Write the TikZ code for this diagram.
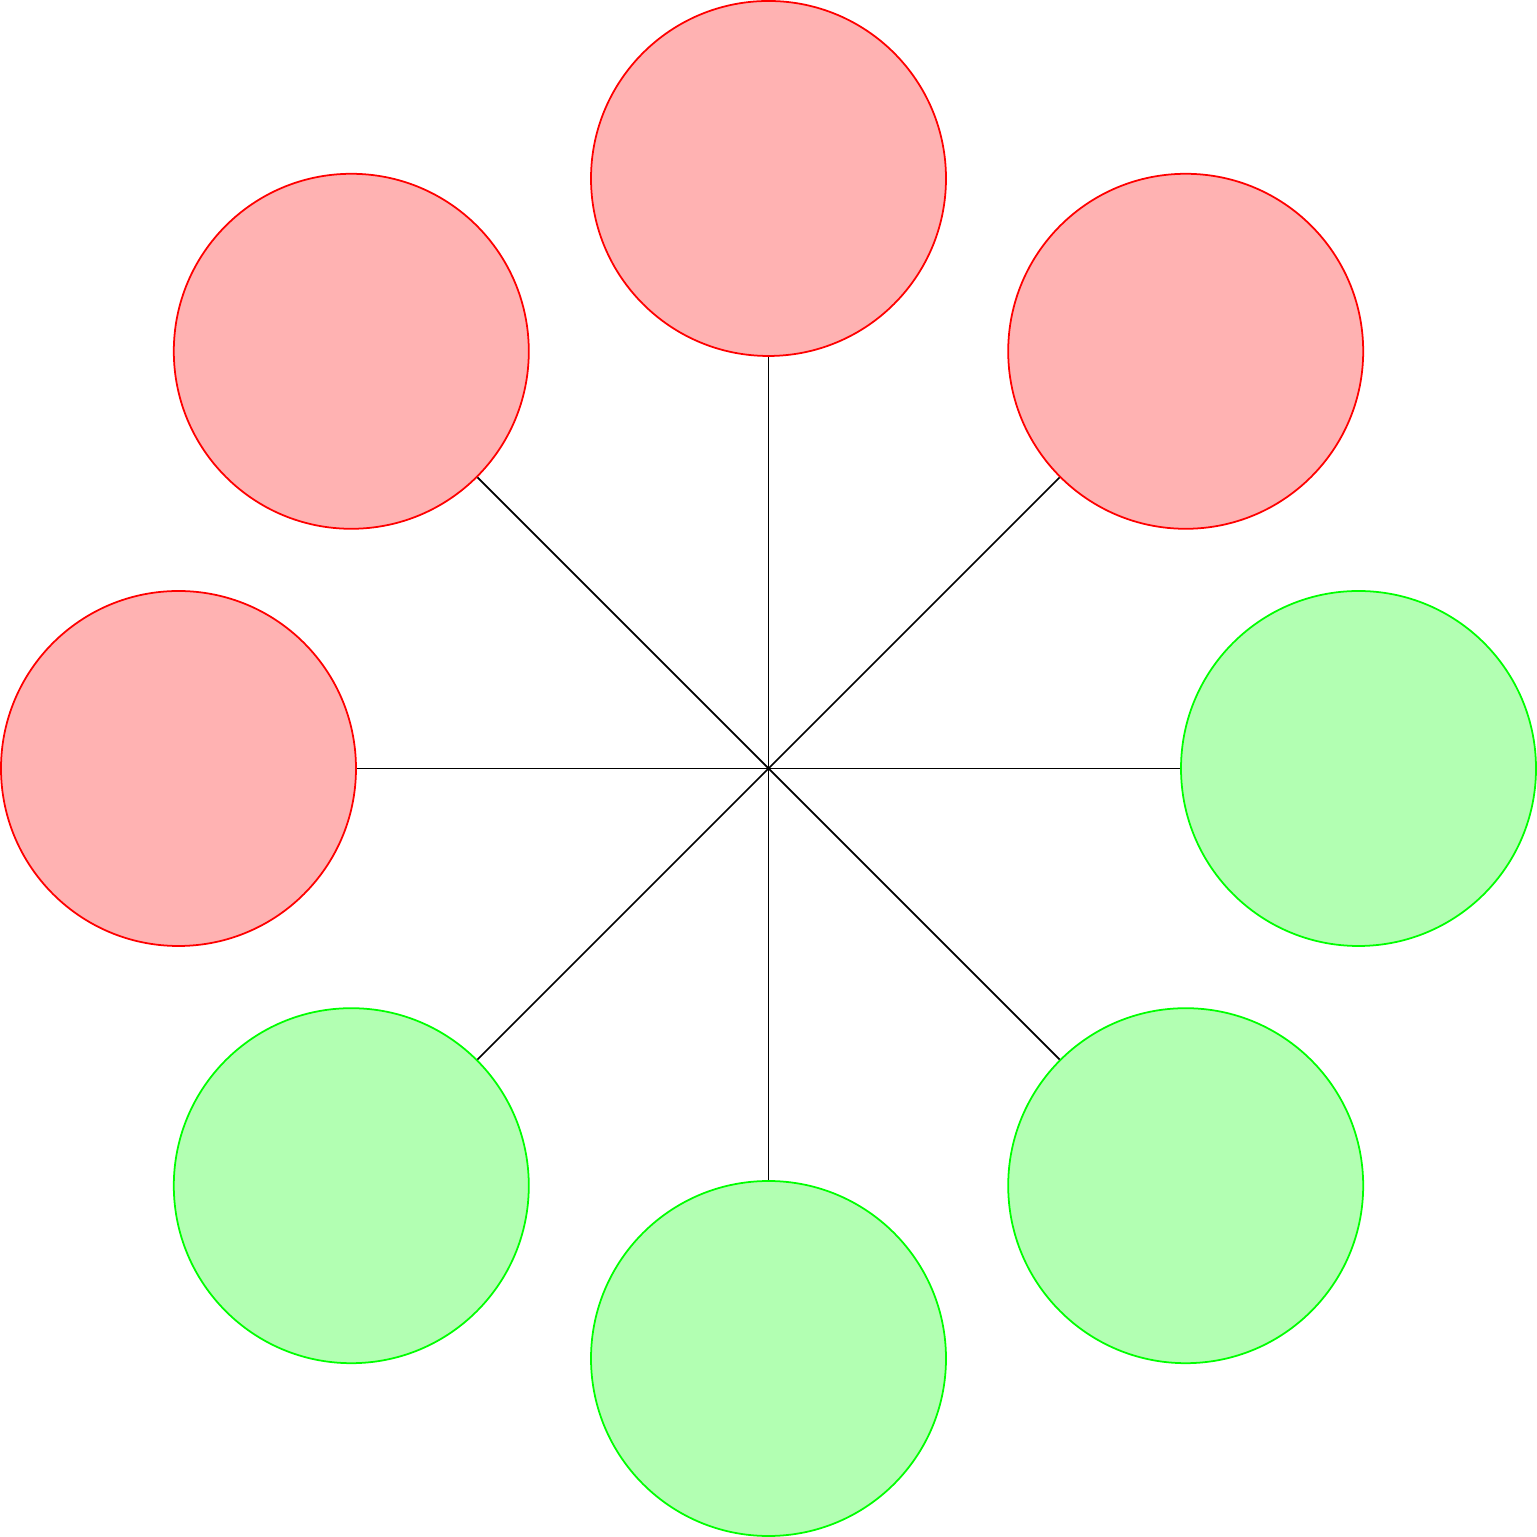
\documentclass[tikz,border=0pt]{standalone}
\begin{document}
\begin{tikzpicture}
\tikzset{
  redball/.style={circle, draw=red, fill=red!30, minimum size=3.55cm, inner sep=0pt, line width=0.5pt},
  greenball/.style={circle, draw=green, fill=green!30, minimum size=3.55cm, inner sep=0pt, line width=0.5pt},
  spoke/.style={draw=black, line width=0.5pt}
}
\useasboundingbox (-7.685,-7.685) rectangle (7.685,7.685);
\coordinate (c) at (0,0);
\node[redball] (n90) at (90:5.9) {};
\node[redball] (n135) at (135:5.9) {};
\node[redball] (n45) at (45:5.9) {};
\node[redball] (n180) at (180:5.9) {};
\node[greenball] (n0) at (0:5.9) {};
\node[greenball] (n225) at (225:5.9) {};
\node[greenball] (n270) at (270:5.9) {};
\node[greenball] (n315) at (315:5.9) {};
\foreach \a in {0,45,90,135,180,225,270,315}{
  \draw[spoke] (c) -- (n\a);
}
\end{tikzpicture}
\end{document}
